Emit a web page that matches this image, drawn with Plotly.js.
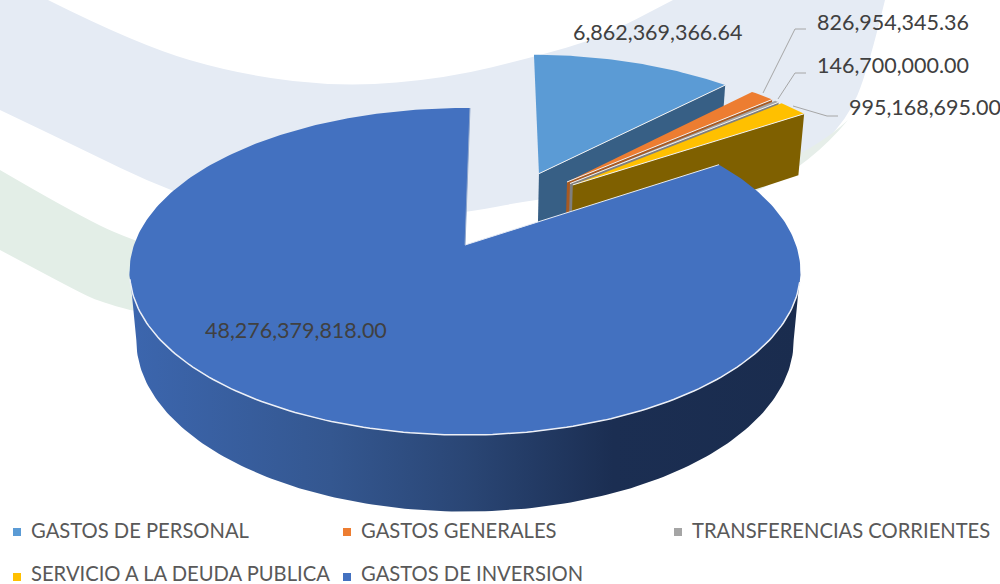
<!DOCTYPE html>
<html>
<head>
<meta charset="utf-8">
<script src="https://cdn.plot.ly/plotly-3.0.1.min.js"></script>
<style>html,body{margin:0;padding:0;background:#fff}#chart{width:1000px;height:584px}</style>
</head>
<body>
<div id="chart"></div>
<script>
// ---- data ----
const categories = ['GASTOS DE PERSONAL','GASTOS GENERALES','TRANSFERENCIAS CORRIENTES','SERVICIO A LA DEUDA PUBLICA','GASTOS DE INVERSION'];
const values = [6862369366.64, 826954345.36, 146700000.00, 995168695.00, 48276379818.00];

// ---- style ----
const topColors = ['#5B9BD5','#ED7D31','#A5A5A5','#FFC000','#4371C0'];
const wallColors = ['#375F85','#A85A22','#7F7F7F','#7F6000','#2F528F'];
const explodeSize = [0.54,0.536,0.533,0.531,0];
const explodeAngle = [26.5,37.9,39.4,40.8,0];
const legendX = [13,343,674,13,343], legendY = [532,532,532,577,577], legendTextY = [530,530,530,573,573];
const labelX = [572,816,816,848,204], labelY = [32,22,65,107,330];
const FONT = 'Lato, "Open Sans", sans-serif';

// ---- projection of the tilted disc ----
const cx=465, cy=245, A=331, B=159.2, K=0.162, M=0.02, D=69.5, START=1;
const rad=d=>d*Math.PI/180;
function proj(u,v,h){const w=1-K*v+M*h;return [cx+A*u/w, cy+(B*v+D*h)/w];}
function rim(i,deg,h){
  const px=explodeSize[i]*Math.sin(rad(explodeAngle[i])), py=-explodeSize[i]*Math.cos(rad(explodeAngle[i]));
  return proj(px+Math.sin(rad(deg)), py-Math.cos(rad(deg)), h);
}
function apex(i,h){
  const px=explodeSize[i]*Math.sin(rad(explodeAngle[i])), py=-explodeSize[i]*Math.cos(rad(explodeAngle[i]));
  return proj(px,py,h);
}
const total=values.reduce((a,b)=>a+b,0);
const bounds=[START]; values.forEach(v=>bounds.push(bounds[bounds.length-1]+v/total*360));
function arc(i,a0,a1,h){const n=Math.max(2,Math.ceil(Math.abs(a1-a0)));const o=[];for(let k=0;k<=n;k++)o.push(rim(i,a0+(a1-a0)*k/n,h));return o;}
function poly(pts,color,extra){
  const closed=pts.concat([pts[0]]);
  return Object.assign({type:'scatter',mode:'lines',x:closed.map(p=>p[0]),y:closed.map(p=>p[1]),fill:'toself',fillcolor:color,line:{width:0,color:color},hoverinfo:'skip'},extra||{});
}
function line(pts,color,width){
  return {type:'scatter',mode:'lines',x:pts.map(p=>p[0]),y:pts.map(p=>p[1]),line:{color:color,width:width},hoverinfo:'skip'};
}
const traces=[];
for(let i=0;i<4;i++){
  const e=bounds[i+1];
  traces.push(poly([apex(i,0),rim(i,e,0),rim(i,e,1),apex(i,1)],wallColors[i]));
  traces.push(poly([apex(i,0)].concat(arc(i,bounds[i],e,0)),topColors[i]));
  traces.push(line([apex(i,0),rim(i,e,0)],'#F2F2F2',1));
}
// large slice
const ws=99, we=261;
traces.push(poly(arc(4,ws,we,0).concat(arc(4,we,ws,1)),wallColors[4],{
  fillgradient:{type:'horizontal',colorscale:[[0,'#3C66AE'],[0.3,'#345790'],[0.5,'#2A4675'],[0.72,'#1B2E52'],[1,'#1A2C4E']]}
}));
traces.push(poly([apex(4,0)].concat(arc(4,bounds[4],bounds[5],0)),topColors[4]));
traces.push(line(arc(4,103,258,0),'#EDF0F7',1.5));
traces.push(line([apex(4,0),rim(4,bounds[4],0)],'#E6EBF5',1));
traces.push(line([apex(4,0),rim(4,bounds[5],0)],'#8FA6CC',1));
// legend swatches
traces.push({type:'scatter',mode:'markers',x:legendX.map(x=>x+4),y:legendY,marker:{symbol:'square',size:8,color:topColors,line:{width:0}},hoverinfo:'skip'});

// ---- decorative backdrop ----
function smooth(p){
  let s='M'+p[0][0]+','+p[0][1];
  for(let i=1;i<p.length-1;i++){const mx=(p[i][0]+p[i+1][0])/2,my=(p[i][1]+p[i+1][1])/2;s+=' Q'+p[i][0]+','+p[i][1]+' '+mx+','+my;}
  const l=p[p.length-1];return s+' L'+l[0]+','+l[1];
}
const bandUpper=[[48,0],[138,45],[241,75],[345,87],[448,78],[534,57],[600,38],[673,0]];
const bandLower=[[885,0],[868,70],[847,120],[805,160],[760,185],[650,190],[540,198],[472,212],[300,232],[172,193],[69,143],[0,110]];
function bandPath(){return smooth(bandUpper)+' L885,0 '+smooth(bandLower).replace(/^M/,'L')+' L0,0 Z';}
const shapes=[
 {type:'path',xref:'x',yref:'y',layer:'below',path:bandPath(),fillcolor:'#E5EBF4',line:{width:0}},
 {type:'path',xref:'x',yref:'y',layer:'below',path:smooth([[0,170],[65,208],[135,243],[300,290]])+' L300,330 '+smooth([[130,310],[100,302],[75,290],[0,250]]).replace(/^M/,'L')+' Z',fillcolor:'#E3EEE7',line:{width:0}},
 {type:'path',xref:'x',yref:'y',layer:'below',path:'M700,210 Q790,190 848,120 Q800,165 700,190 Z',fillcolor:'#E6EEE9',line:{width:0}}
];
[[[763,93],[795,29],[806,29]],[[778,99],[795,73],[806,73]],[[793,106],[827,116],[838,116]]].forEach(l=>{
  for(let i=0;i<2;i++)shapes.push({type:'line',xref:'x',yref:'y',x0:l[i][0],y0:l[i][1],x1:l[i+1][0],y1:l[i+1][1],line:{color:'#A6A6A6',width:1}});
});

// ---- text ----
const fmt=v=>v.toLocaleString('en-US',{minimumFractionDigits:2,maximumFractionDigits:2});
const annotations=[];
values.forEach((v,i)=>annotations.push({xref:'x',yref:'y',x:labelX[i],y:labelY[i],xanchor:'left',yanchor:'middle',showarrow:false,text:fmt(v),align:'left',borderpad:0,font:{family:FONT,size:21.5,color:'#404040'}}));
categories.forEach((c,i)=>annotations.push({xref:'x',yref:'y',x:legendX[i]+17,y:legendTextY[i],xanchor:'left',yanchor:'middle',showarrow:false,text:c,borderpad:0,font:{family:FONT,size:20.2,color:'#595959'}}));

Plotly.newPlot('chart',traces,{
  width:1000,height:584,margin:{l:0,r:0,t:0,b:0},showlegend:false,
  paper_bgcolor:'#fff',plot_bgcolor:'rgba(0,0,0,0)',
  xaxis:{range:[0,1000],visible:false,fixedrange:true},
  yaxis:{range:[584,0],visible:false,fixedrange:true},
  shapes:shapes,annotations:annotations
},{displayModeBar:false,staticPlot:true});
</script>
</body>
</html>
